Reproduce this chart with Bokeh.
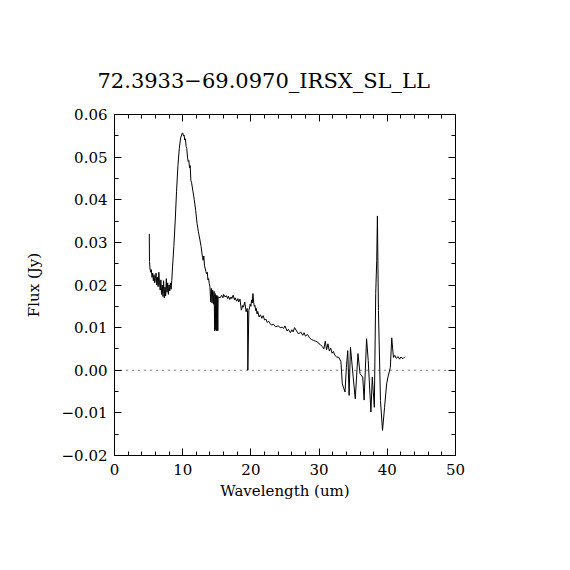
from bokeh.plotting import figure
from bokeh.models import (Range1d, LinearAxis, FixedTicker, CustomJSTickFormatter,
                          Span, ColumnDataSource)
from bokeh.embed import file_html
from bokeh.resources import INLINE

title_text = "72.3933\u221269.0970_IRSX_SL_LL"
x_label = "Wavelength (um)"
y_label = "Flux (Jy)"

x_major = [0, 10, 20, 30, 40, 50]
x_minor = [2, 4, 6, 8, 12, 14, 16, 18, 22, 24, 26, 28, 32, 34, 36, 38, 42, 44, 46, 48]
y_major = [-0.02, -0.01, 0.0, 0.01, 0.02, 0.03, 0.04, 0.05, 0.06]
y_minor = [-0.015, -0.005, 0.005, 0.015, 0.025, 0.035, 0.045, 0.055]

wavelength = [
    5.10, 5.13, 5.2, 5.3, 5.4, 5.5, 5.6, 5.7, 5.8, 5.9, 6.0, 6.1, 6.2, 6.3, 6.4, 6.5,
    6.6, 6.7, 6.8, 6.9, 7.0, 7.1, 7.2, 7.3, 7.4, 7.5, 7.6, 7.7, 7.8, 7.9, 8.0, 8.1,
    8.2, 8.3, 8.4, 8.5, 8.7, 8.9, 9.1, 9.3, 9.5, 9.7, 9.9, 10.0, 10.1, 10.2, 10.3,
    10.4, 10.5, 10.6, 10.7, 10.8, 10.9, 11.0, 11.1, 11.2, 11.3, 11.5, 11.7, 11.9,
    12.1, 12.3, 12.5, 12.7, 12.9, 13.0, 13.1, 13.2, 13.4, 13.5, 13.6, 13.7, 13.8,
    13.9, 14.0, 14.1, 14.2, 14.3, 14.4, 14.5, 14.6, 14.7, 14.75, 14.85, 14.9,
    15.0, 15.05, 15.15, 15.2, 15.5, 15.7, 15.9, 16.0, 16.2, 16.4, 16.6, 16.7, 16.9,
    17.1, 17.2, 17.4, 17.6, 17.7, 17.9, 18.1, 18.2, 18.4, 18.6, 18.8, 18.9, 19.1,
    19.3, 19.45, 19.5, 19.55, 19.7, 19.8, 19.9, 20.0, 20.1, 20.2, 20.3, 20.4, 20.5,
    20.6, 20.7, 20.8, 20.9, 21.0, 21.2, 21.4, 21.6, 21.8, 22.0, 22.2, 22.4, 22.6,
    22.8, 23.0, 23.3, 23.6, 24.0, 24.3, 24.6, 24.8, 25.0, 25.3, 25.5, 25.8, 26.0,
    26.2, 26.4, 26.7, 27.0, 27.3, 27.6, 27.8, 28.0, 28.3, 28.6, 28.9, 29.2, 29.5,
    29.8, 30.0, 30.2, 30.5, 30.7, 30.9, 31.1, 31.3, 31.5, 31.7, 31.9, 32.1, 32.3,
    32.6, 32.9, 33.2, 33.4, 33.8, 34.0, 34.2, 34.4, 34.6, 35.0, 35.3, 35.7, 36.0,
    36.4, 36.6, 36.96, 37.2, 37.6, 37.8, 38.1, 38.3, 38.45, 38.55, 38.7, 39.0, 39.3,
    39.6, 39.9, 40.1, 40.45, 40.65, 40.9, 41.1, 41.3, 41.6, 41.8, 42.0, 42.3, 42.6,
]
flux = [
    0.0320, 0.0255, 0.0240, 0.0230, 0.0236, 0.0218, 0.0228, 0.0210, 0.0224, 0.0205,
    0.0215, 0.0228, 0.0200, 0.0218, 0.0196, 0.0230, 0.0205, 0.0188, 0.0212, 0.0178,
    0.0200, 0.0173, 0.0210, 0.0170, 0.0195, 0.0174, 0.0215, 0.0183, 0.0205, 0.0178,
    0.0200, 0.0186, 0.0205, 0.0190, 0.0210, 0.0240, 0.0290, 0.0350, 0.0420, 0.0480,
    0.0520, 0.0545, 0.0555, 0.0557, 0.0550, 0.0552, 0.0540, 0.0543, 0.0525, 0.0520,
    0.0500, 0.0490, 0.0492, 0.0475, 0.0480, 0.0445, 0.0440, 0.0420, 0.0400, 0.0375,
    0.0345, 0.0325, 0.0308, 0.0290, 0.0265, 0.0258, 0.0268, 0.0245, 0.0232, 0.0226,
    0.0230, 0.0212, 0.0215, 0.0203, 0.0195, 0.0160, 0.0192, 0.0158, 0.0188, 0.0155,
    0.0185, 0.0092, 0.0180, 0.0095, 0.0176, 0.0092, 0.0175, 0.0093, 0.0172, 0.0170,
    0.0176, 0.0170, 0.0178, 0.0172, 0.0175, 0.0168, 0.0174, 0.0166, 0.0172, 0.0168,
    0.0176, 0.0165, 0.0170, 0.0162, 0.0168, 0.0160, 0.0167, 0.0141, 0.0152, 0.0148,
    0.0160, 0.0137, 0.0145, 0.0140, 0.0000, 0.0140, 0.0148, 0.0155, 0.0150, 0.0165,
    0.0158, 0.0180, 0.0160, 0.0150, 0.0152, 0.0140, 0.0145, 0.0132, 0.0138, 0.0125,
    0.0130, 0.0122, 0.0128, 0.0118, 0.0120, 0.0112, 0.0115, 0.0110, 0.0106, 0.0108,
    0.0102, 0.0104, 0.0100, 0.0101, 0.0098, 0.0104, 0.0092, 0.0096, 0.0088, 0.0095,
    0.0090, 0.0100, 0.0092, 0.0085, 0.0090, 0.0082, 0.0088, 0.0080, 0.0084, 0.0076,
    0.0072, 0.0070, 0.0068, 0.0066, 0.0062, 0.0060, 0.0055, 0.0050, 0.0068, 0.0048,
    0.0062, 0.0045, 0.0052, 0.0040, 0.0044, 0.0035, 0.0031, 0.0030, 0.0020, -0.0032,
    -0.0051, 0.0007, 0.0046, -0.0059, 0.0054, -0.0016, -0.0067, 0.0039, -0.0008,
    -0.0016, -0.0070, 0.0074, 0.0023, -0.0098, -0.0016, -0.0087, 0.0180, 0.0258,
    0.0362, 0.0140, -0.0071, -0.0141, -0.0087, -0.0032, -0.0016, 0.0007, 0.0076,
    0.0030, 0.0035, 0.0028, 0.0032, 0.0026, 0.0031, 0.0027, 0.0032, 0.0028,
]

FONT = "DejaVu Serif"

p = figure(width=554, height=554, output_backend="svg", toolbar_location=None,
           x_range=Range1d(0, 50), y_range=Range1d(-0.02, 0.06),
           min_border_left=114, min_border_right=99,
           min_border_top=114, min_border_bottom=99)
p.background_fill_color = "white"
p.border_fill_color = "white"
p.outline_line_color = "black"
p.outline_line_width = 1
p.xgrid.visible = False
p.ygrid.visible = False

p.title.text = title_text
p.title.text_font = FONT
p.title.text_font_size = "21px"
p.title.text_font_style = "normal"
p.title.text_color = "black"
p.title.align = "left"
p.title.offset = -17
p.title.standoff = 44

src = ColumnDataSource(dict(x=wavelength, y=flux))
p.line("x", "y", source=src, line_color="black", line_width=1)

p.add_layout(Span(location=0, dimension="width", line_color="black",
                  line_width=1, line_dash="1 5"))

xt = FixedTicker(ticks=x_major, minor_ticks=x_minor)
yt = FixedTicker(ticks=y_major, minor_ticks=y_minor)
yfmt = CustomJSTickFormatter(code="""
    const s = Math.abs(tick).toFixed(2);
    return (tick < -1e-9 ? '\u2212' : '') + s;
""")

def style(ax, labels=True):
    ax.axis_line_color = "black"
    ax.major_tick_line_color = "black"
    ax.minor_tick_line_color = "black"
    ax.major_tick_in = 7
    ax.major_tick_out = 0
    ax.minor_tick_in = 4
    ax.minor_tick_out = 0
    ax.major_label_text_font = FONT
    ax.major_label_text_font_size = "15px"
    ax.major_label_text_color = "black"
    ax.axis_label_text_font = FONT
    ax.axis_label_text_font_size = "15px"
    ax.axis_label_text_font_style = "normal"
    ax.axis_label_text_color = "black"
    if not labels:
        ax.major_label_text_alpha = 0

xa = p.xaxis[0]
xa.ticker = xt
xa.axis_label = x_label
xa.major_label_standoff = 8
xa.axis_label_standoff = 4
style(xa)

ya = p.yaxis[0]
ya.ticker = yt
ya.formatter = yfmt
ya.axis_label = y_label
ya.major_label_standoff = 7
ya.axis_label_standoff = 16
style(ya)

top = LinearAxis(ticker=FixedTicker(ticks=x_major, minor_ticks=x_minor))
style(top, labels=False)
p.add_layout(top, "above")
right = LinearAxis(ticker=FixedTicker(ticks=y_major, minor_ticks=y_minor))
style(right, labels=False)
p.add_layout(right, "right")

open("out.html", "w").write(file_html(p, INLINE))
